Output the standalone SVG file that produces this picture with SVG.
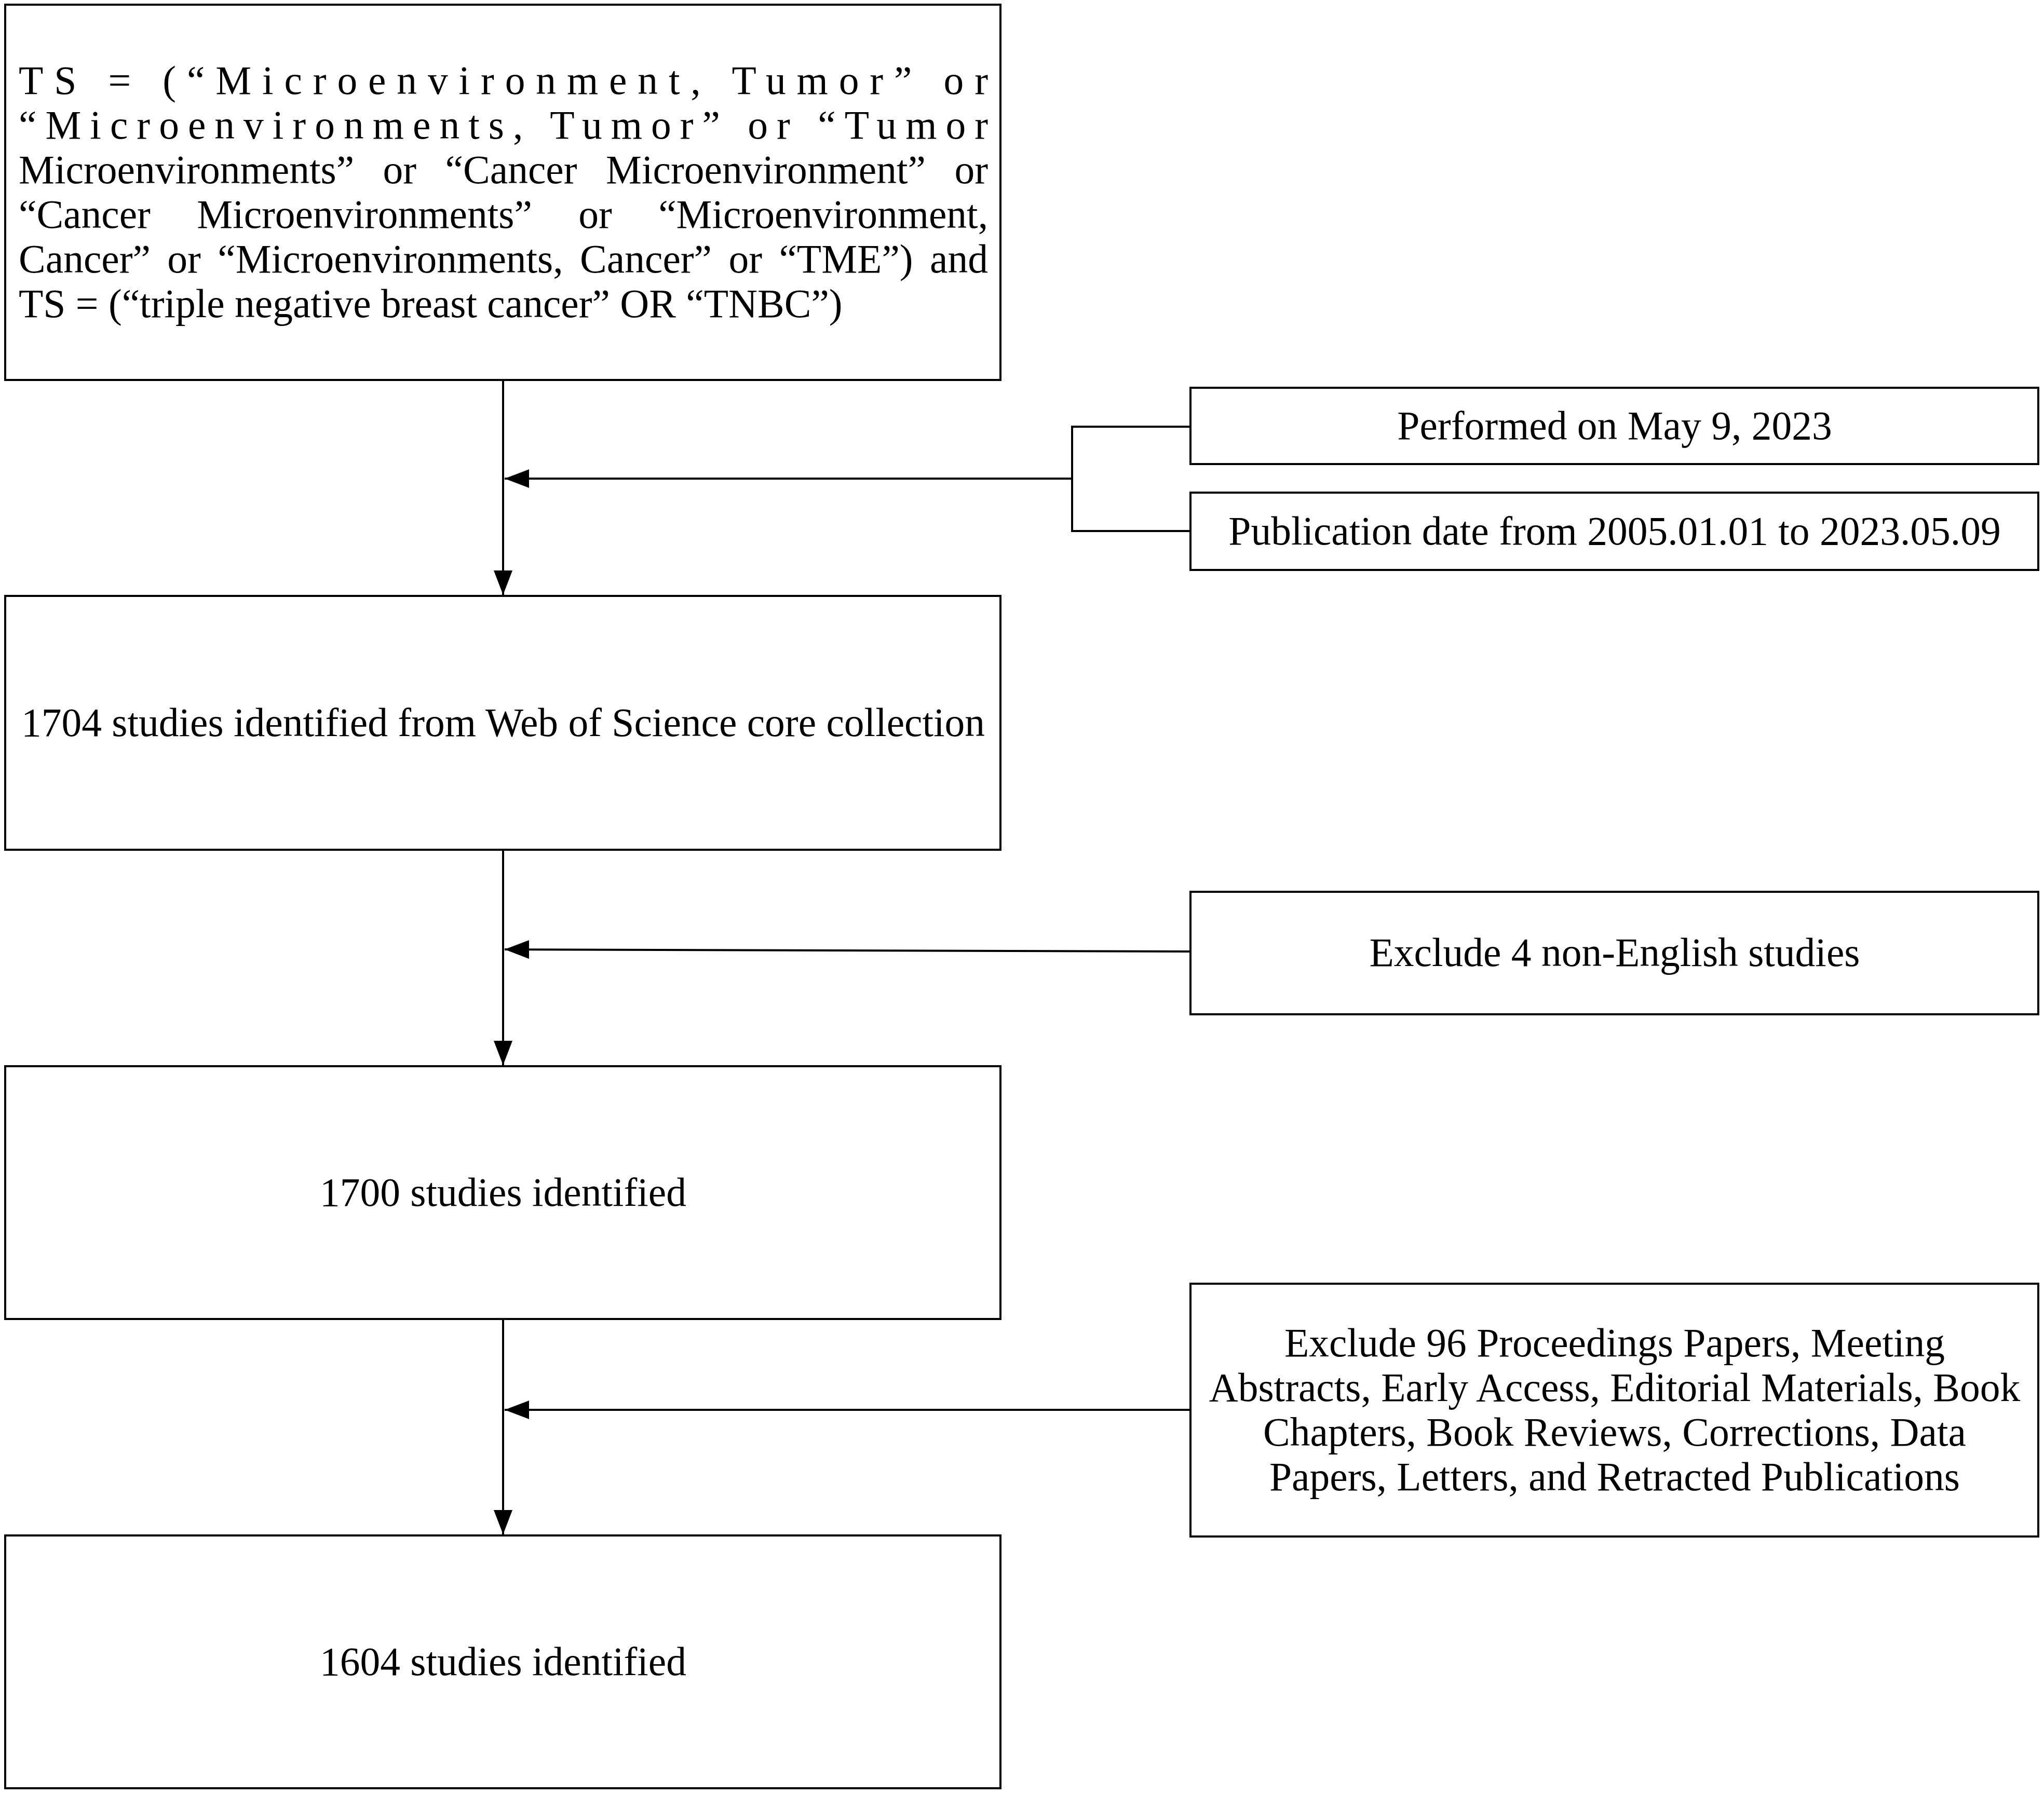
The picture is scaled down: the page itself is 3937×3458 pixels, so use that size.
<svg xmlns="http://www.w3.org/2000/svg" width="3937" height="3458" viewBox="0 0 3937 3458">
  <style>
    .box { fill: #ffffff; stroke: #000000; stroke-width: 4; }
    .conn { fill: none; stroke: #000000; stroke-width: 4; }
    text { font-family: "Liberation Serif", "Times New Roman", serif; font-size: 77.5px; fill: #000000; }
    .c { text-anchor: middle; }
  </style>
  <defs>
    <marker id="arrow" markerUnits="userSpaceOnUse" markerWidth="48" markerHeight="36" viewBox="0 0 48 36" refX="47" refY="18" orient="auto">
      <path d="M0,0 L47,18 L0,36 Z" fill="#000000"/>
    </marker>
  </defs>
  <rect width="3937" height="3458" fill="#ffffff"/>

  <g id="connectors">
    <line class="conn" x1="969" y1="732" x2="969" y2="1146" marker-end="url(#arrow)"/>
    <polyline class="conn" points="2293,822 2065,822 2065,1023 2293,1023"/>
    <line class="conn" x1="2065" y1="922" x2="972" y2="922" marker-end="url(#arrow)"/>
    <line class="conn" x1="969" y1="1637" x2="969" y2="2052" marker-end="url(#arrow)"/>
    <line class="conn" x1="2293" y1="1833" x2="972" y2="1829" marker-end="url(#arrow)"/>
    <line class="conn" x1="969" y1="2541" x2="969" y2="2956" marker-end="url(#arrow)"/>
    <line class="conn" x1="2293" y1="2716" x2="972" y2="2716" marker-end="url(#arrow)"/>
  </g>

  <g id="node-query">
    <rect class="box" x="10" y="9" width="1917" height="723"/>
    <text x="36" y="181" textLength="1867" lengthAdjust="spacing">TS = (“Microenvironment, Tumor” or</text>
    <text x="36" y="267" textLength="1867" lengthAdjust="spacing">“Microenvironments, Tumor” or “Tumor</text>
    <text x="36" y="353" style="word-spacing:36px" textLength="1867" lengthAdjust="spacing">Microenvironments” or “Cancer Microenvironment” or</text>
    <text x="36" y="439" style="word-spacing:70px" textLength="1867" lengthAdjust="spacing">“Cancer Microenvironments” or “Microenvironment,</text>
    <text x="36" y="525" style="word-spacing:13px" textLength="1867" lengthAdjust="spacing">Cancer” or “Microenvironments, Cancer” or “TME”) and</text>
    <text x="36" y="611">TS = (“triple negative breast cancer” OR “TNBC”)</text>
  </g>

  <g id="node-performed">
    <rect class="box" x="2293" y="747" width="1633" height="147"/>
    <text class="c" x="3110" y="846">Performed on May 9, 2023</text>
  </g>

  <g id="node-pubdate">
    <rect class="box" x="2293" y="949" width="1633" height="149"/>
    <text class="c" x="3110" y="1049">Publication date from 2005.01.01 to 2023.05.09</text>
  </g>

  <g id="node-1704">
    <rect class="box" x="10" y="1148" width="1917" height="489"/>
    <text class="c" x="969" y="1418">1704 studies identified from Web of Science core collection</text>
  </g>

  <g id="node-exclude-lang">
    <rect class="box" x="2293" y="1718" width="1633" height="236"/>
    <text class="c" x="3110" y="1861">Exclude 4 non-English studies</text>
  </g>

  <g id="node-1700">
    <rect class="box" x="10" y="2054" width="1917" height="487"/>
    <text class="c" x="969" y="2323">1700 studies identified</text>
  </g>

  <g id="node-exclude-types">
    <rect class="box" x="2293" y="2473" width="1633" height="487"/>
    <text class="c" x="3110" y="2613">Exclude 96 Proceedings Papers, Meeting</text>
    <text class="c" x="3110" y="2699">Abstracts, Early Access, Editorial Materials, Book</text>
    <text class="c" x="3110" y="2785">Chapters, Book Reviews, Corrections, Data</text>
    <text class="c" x="3110" y="2871">Papers, Letters, and Retracted Publications</text>
  </g>

  <g id="node-1604">
    <rect class="box" x="10" y="2958" width="1917" height="487"/>
    <text class="c" x="969" y="3227">1604 studies identified</text>
  </g>
</svg>
